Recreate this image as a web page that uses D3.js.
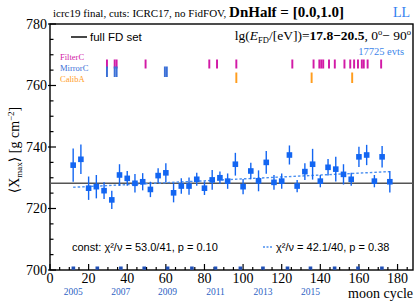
<!DOCTYPE html>
<html>
<head>
<meta charset="utf-8">
<script src="https://cdn.jsdelivr.net/npm/d3@7"></script>
<style>
  body { margin: 0; background: #fff; }
  svg { display: block; }
  .serif { font-family: "Liberation Serif", "DejaVu Serif", serif; }
  .sans { font-family: "Liberation Sans", Arial, sans-serif; }
</style>
</head>
<body>
<div id="chart"></div>
<script>
// moon cycle of each point
const cycles = [12, 16, 20, 24, 28, 32, 36, 40, 44, 48, 52, 56, 60, 64, 68, 72, 76, 80, 84, 88, 92,
  96, 100, 104, 108, 112, 116, 120, 124, 128, 132, 136, 140, 144, 148, 152, 156, 160, 164, 168, 172, 176];
const xmaxMean = [734.1, 736.0, 726.6, 727.1, 725.8, 722.8, 730.9, 729.8, 728.2, 728.7, 726.2, 730.7, 731.6, 725.1,
  727.3, 727.3, 729.5, 726.6, 729.3, 730.0, 728.9, 734.4, 727.1, 732.2, 729.0, 735.0, 728.5, 728.9,
  737.4, 727.3, 732.0, 734.4, 728.9, 733.4, 732.8, 731.1, 729.5, 736.8, 737.4, 728.9, 736.8, 728.7];
const xmaxErr = [5.4, 4.8, 3.8, 3.8, 2.7, 3.0, 3.5, 2.4, 3.0, 2.8, 2.5, 2.4, 3.1, 3.1, 2.5, 2.8, 2.1, 2.2, 3.2, 2.0, 2.5,
  3.7, 2.5, 2.7, 3.4, 3.7, 2.4, 2.5, 3.1, 2.0, 2.7, 5.0, 2.0, 2.7, 4.0, 3.3, 2.1, 3.3, 3.3, 2.0, 3.5, 3.5];

const constFit = 728.2;
const linFit = [[12, 726.9], [176, 732.0]];

// detector status flags (moon cycles)
const filterC = [29, 33, 34, 49, 82, 86, 96, 125, 136, 139, 140, 141, 144, 147, 152, 155, 157, 159, 161, 162, 164, 171];
const mirrorC = [29, 33, 34, 59, 60];
const calibA = [96, 135, 156];

// year markers on the cycle axis
const yearCycles = [12.1, 24.5, 36.7, 48.8, 60.9, 73.5, 85.7, 98.6, 110.3, 123, 134.9, 147.4, 159.5, 171.9];
const years = [2005, 2006, 2007, 2008, 2009, 2010, 2011, 2012, 2013, 2014, 2015, 2016, 2017, 2018];

const W = 417, H = 301;
const plot = { left: 50, right: 413, top: 24, bottom: 270 };

const svg = d3.select("#chart").append("svg")
  .attr("width", W).attr("height", H);

const x = d3.scaleLinear().domain([0, 188]).range([plot.left, plot.right]);
const y = d3.scaleLinear().domain([700, 780]).range([plot.bottom, plot.top]);

const blue = "#1366f2";

// frame
svg.append("rect")
  .attr("x", plot.left).attr("y", plot.top)
  .attr("width", plot.right - plot.left).attr("height", plot.bottom - plot.top)
  .attr("fill", "none").attr("stroke", "#000").attr("stroke-width", 1.4);

// y ticks
const yMinor = d3.range(700, 781, 5);
svg.append("g").selectAll("line").data(yMinor).enter().append("line")
  .attr("x1", d => d % 20 === 0 ? plot.left - 2 : plot.left)
  .attr("x2", d => plot.left + (d % 20 === 0 ? 6 : 3.5))
  .attr("y1", d => y(d)).attr("y2", d => y(d))
  .attr("stroke", "#000").attr("stroke-width", 1.2);

svg.append("g").selectAll("text").data(d3.range(700, 781, 20)).enter().append("text")
  .attr("class", "serif")
  .attr("x", plot.left - 3).attr("y", d => y(d) + 4.5)
  .attr("text-anchor", "end").style("font-size", "14px")
  .text(d => d);

// x ticks
const xMinor = d3.range(0, 189, 5);
svg.append("g").selectAll("line").data(xMinor).enter().append("line")
  .attr("x1", d => x(d)).attr("x2", d => x(d))
  .attr("y1", plot.bottom)
  .attr("y2", d => plot.bottom - (d % 20 === 0 ? 6 : 3))
  .attr("stroke", "#000").attr("stroke-width", 1.2);

svg.append("g").selectAll("text").data(d3.range(0, 181, 20)).enter().append("text")
  .attr("class", "serif")
  .attr("x", d => x(d)).attr("y", plot.bottom + 13)
  .attr("text-anchor", "middle").style("font-size", "14px")
  .text(d => d);

// year markers
svg.append("g").selectAll("rect").data(yearCycles).enter().append("rect")
  .attr("x", d => x(d) - 1.8).attr("y", plot.bottom - 3.5)
  .attr("width", 3.6).attr("height", 3.2)
  .attr("fill", "#1f4fb5");

svg.append("g").selectAll("text").data(years.filter((d, i) => i % 2 === 0 && d <= 2015)).enter().append("text")
  .attr("class", "serif")
  .attr("x", d => x(yearCycles[years.indexOf(d)])).attr("y", 295)
  .attr("text-anchor", "middle").style("font-size", "9.5px")
  .attr("fill", "#2d5fc4")
  .text(d => d);

svg.append("text").attr("class", "serif")
  .attr("x", 413).attr("y", 298).attr("text-anchor", "end")
  .style("font-size", "14px").text("moon cycle");

// y title
const yt = svg.append("text").attr("class", "serif")
  .attr("transform", "translate(19,150) rotate(-90)")
  .attr("text-anchor", "middle").style("font-size", "14px");
yt.append("tspan").text("\u27E8X");
yt.append("tspan").attr("dy", 3).style("font-size", "9px").text("max");
yt.append("tspan").attr("dy", -3).text("\u27E9 [g cm");
yt.append("tspan").attr("dy", -5).style("font-size", "9px").text("\u22122");
yt.append("tspan").attr("dy", 5).text("]");

// fits
svg.append("line")
  .attr("x1", plot.left).attr("x2", plot.right)
  .attr("y1", y(constFit)).attr("y2", y(constFit))
  .attr("stroke", "#555").attr("stroke-width", 1.6);

svg.append("line")
  .attr("x1", x(linFit[0][0])).attr("x2", x(linFit[1][0]))
  .attr("y1", y(linFit[0][1])).attr("y2", y(linFit[1][1]))
  .attr("stroke", "#4a8ff0").attr("stroke-width", 1.4)
  .attr("stroke-dasharray", "2.5,2");

// data points
const pts = svg.append("g").selectAll("g").data(cycles).enter().append("g");
pts.append("line")
  .attr("x1", d => x(d)).attr("x2", d => x(d))
  .attr("y1", (d, i) => y(xmaxMean[i] - xmaxErr[i]))
  .attr("y2", (d, i) => y(xmaxMean[i] + xmaxErr[i]))
  .attr("stroke", blue).attr("stroke-width", 1.4);
pts.append("rect")
  .attr("x", d => x(d) - 2.8)
  .attr("y", (d, i) => y(xmaxMean[i]) - 2.8)
  .attr("width", 5.6).attr("height", 5.6)
  .attr("fill", blue);

// detector flags
const flagRows = [
  { name: "FilterC", list: filterC, color: "#d21aa6", y0: 59.5, y1: 68.5, ly: 60 },
  { name: "MirrorC", list: mirrorC, color: "#3a6fd6", y0: 66.5, y1: 77, ly: 71 },
  { name: "CalibA", list: calibA, color: "#ff9d1e", y0: 72.5, y1: 83, ly: 82 }
];
flagRows.forEach(r => {
  svg.append("g").selectAll("rect").data(r.list).enter().append("rect")
    .attr("x", d => x(d)).attr("y", r.y0)
    .attr("width", x(1) - x(0)).attr("height", r.y1 - r.y0)
    .attr("fill", r.color);
  svg.append("text").attr("class", "serif")
    .attr("x", 60).attr("y", r.ly)
    .style("font-size", "8.5px").attr("fill", r.color)
    .text(r.name);
});

// legend
svg.append("line")
  .attr("x1", 71).attr("x2", 87).attr("y1", 37).attr("y2", 37)
  .attr("stroke", "#333").attr("stroke-width", 1.8);
svg.append("text").attr("class", "sans")
  .attr("x", 90).attr("y", 41).style("font-size", "11.5px").text("full FD set");

const et = svg.append("text").attr("class", "serif")
  .attr("x", 411).attr("y", 40).attr("text-anchor", "end").style("font-size", "13.5px");
et.append("tspan").text("lg(");
et.append("tspan").style("font-style", "italic").text("E");
et.append("tspan").attr("dy", 3).style("font-size", "8.5px").text("FD");
et.append("tspan").attr("dy", -3).text("/[eV])=");
et.append("tspan").style("font-weight", "bold").text("17.8\u221220.5");
et.append("tspan").text(", 0");
et.append("tspan").attr("dy", -5).style("font-size", "8.5px").text("o");
et.append("tspan").attr("dy", 5).text("\u2212 90");
et.append("tspan").attr("dy", -5).style("font-size", "8.5px").text("o");

svg.append("text").attr("class", "serif")
  .attr("x", 404).attr("y", 55).attr("text-anchor", "end")
  .style("font-size", "10.5px").attr("fill", "#3d86ea").text("17725 evts");

// title
const tt = svg.append("text").attr("class", "serif")
  .attr("x", 53).attr("y", 17);
tt.append("tspan").style("font-size", "11px").text("icrc19 final, cuts: ICRC17, no FidFOV, ");
tt.append("tspan").style("font-size", "15px").style("font-weight", "bold").text("DnHalf = [0.0,1.0]");

svg.append("text").attr("class", "serif")
  .attr("x", 410).attr("y", 17).attr("text-anchor", "end")
  .style("font-size", "14px").attr("fill", "#2f7ef0").text("LL");

// fit results
svg.append("text").attr("class", "sans")
  .attr("x", 72).attr("y", 251).style("font-size", "11px")
  .text("const: \u03C7\u00B2/\u03BD = 53.0/41, p = 0.10");
svg.append("line")
  .attr("x1", 263).attr("x2", 272).attr("y1", 247).attr("y2", 247)
  .attr("stroke", "#4a8ff0").attr("stroke-width", 1.4).attr("stroke-dasharray", "2,1.5");
svg.append("text").attr("class", "sans")
  .attr("x", 276).attr("y", 251).style("font-size", "11px")
  .text("\u03C7\u00B2/\u03BD = 42.1/40, p = 0.38");
</script>
</body>
</html>
